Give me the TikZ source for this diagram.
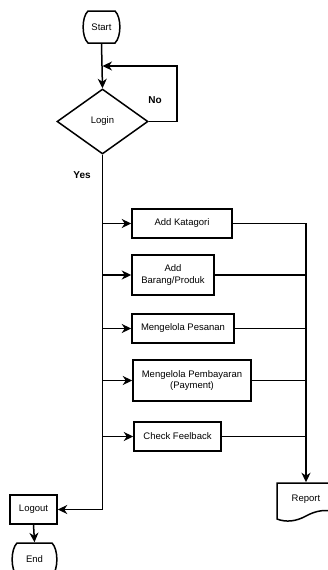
\documentclass[tikz,border=0pt]{standalone}
\usepackage{fontspec}
\setmainfont{Liberation Sans}
\usetikzlibrary{arrows.meta,shapes.geometric,calc}
\begin{document}
\begin{tikzpicture}[x=1pt,y=-1pt,line width=1.5pt,
  txt/.style={font=\fontsize{9.5}{11.5}\selectfont,align=center,inner sep=0pt},
  box/.style={txt,draw,rectangle},
  lbl/.style={font=\bfseries\fontsize{10}{12}\selectfont,inner sep=0pt},
  arr/.style={-{Stealth[length=9.5pt,width=9pt,inset=3pt]}}]
\useasboundingbox (0,0) rectangle (327,570);
% terminators
\node[txt,minimum width=27pt,minimum height=32pt] (start) at (101.5,27) {Start};
\draw[shift={(start.center)}] (-13.5,-16) -- (13.5,-16) .. controls (20,-10) and (20,10) .. (13.5,16) -- (-13.5,16) .. controls (-20,10) and (-20,-10) .. (-13.5,-16) -- cycle;
\node[txt,draw,diamond,minimum width=91pt,minimum height=65pt] (login) at (102.5,121.5) {Login};
\coordinate (loopin) at (102.5,66);
\draw[arr] (start.south) -- (login.north);
\draw[arr] (login.east) -- (177,121.5) -- (177,66) -- (loopin);
\node[lbl] (no) at (155,100) {No};
\node[lbl] (yes) at (82,175) {Yes};
% process boxes
\node[box,minimum width=100pt,minimum height=29pt] (k1) at (182,223.5) {Add Katagori};
\node[box,minimum width=82pt,minimum height=40pt] (k2) at (173,275) {Add\\Barang/Produk};
\node[box,minimum width=102pt,minimum height=29pt] (k3) at (183,328.5) {Mengelola Pesanan};
\node[box,minimum width=118pt,minimum height=41pt] (k4) at (192,380.5) {Mengelola Pembayaran\\(Payment)};
\node[box,minimum width=87pt,minimum height=29pt] (k5) at (177.5,436.5) {Check Feelback};
\node[box,minimum width=47pt,minimum height=29pt] (logout) at (33.5,509.5) {Logout};
% report (document shape)
\node[txt,minimum width=58pt,minimum height=33pt] (report) at (306,499.5) {Report};
\draw[shift={(report.center)}] (-29,19.5) -- (-29,-16.5) -- (29,-16.5) -- (29,12.5)
  .. controls (20,9.5) and (10,11) .. (0,16.5) .. controls (-10,22) and (-20,23) .. (-29,19.5) -- cycle;
% end
\node[txt,minimum width=35pt,minimum height=33pt] (end) at (34.5,559.5) {End};
\draw[shift={(end.center)}] (-17.5,-16.5) -- (17.5,-16.5) .. controls (24,-10) and (24,10) .. (17.5,16.5) -- (-17.5,16.5) .. controls (-24,10) and (-24,-10) .. (-17.5,-16.5) -- cycle;
% main line
\coordinate (j) at (102.5,509.5);
\draw[arr] (login.south) -- (j) -- (logout.east);
\foreach \k in {k1,k2,k3,k4,k5}{
  \draw[arr] (login.south |- \k.west) -- (\k.west);
}
% collector to report
\draw[arr] (k1.east) -- (k1.east -| report.north) -- (report.north);
\foreach \k in {k2,k3,k4,k5}{
  \draw (\k.east) -- (\k.east -| report.north);
}
\draw[arr] (logout.south) -- (end.north);
\end{tikzpicture}
\end{document}
